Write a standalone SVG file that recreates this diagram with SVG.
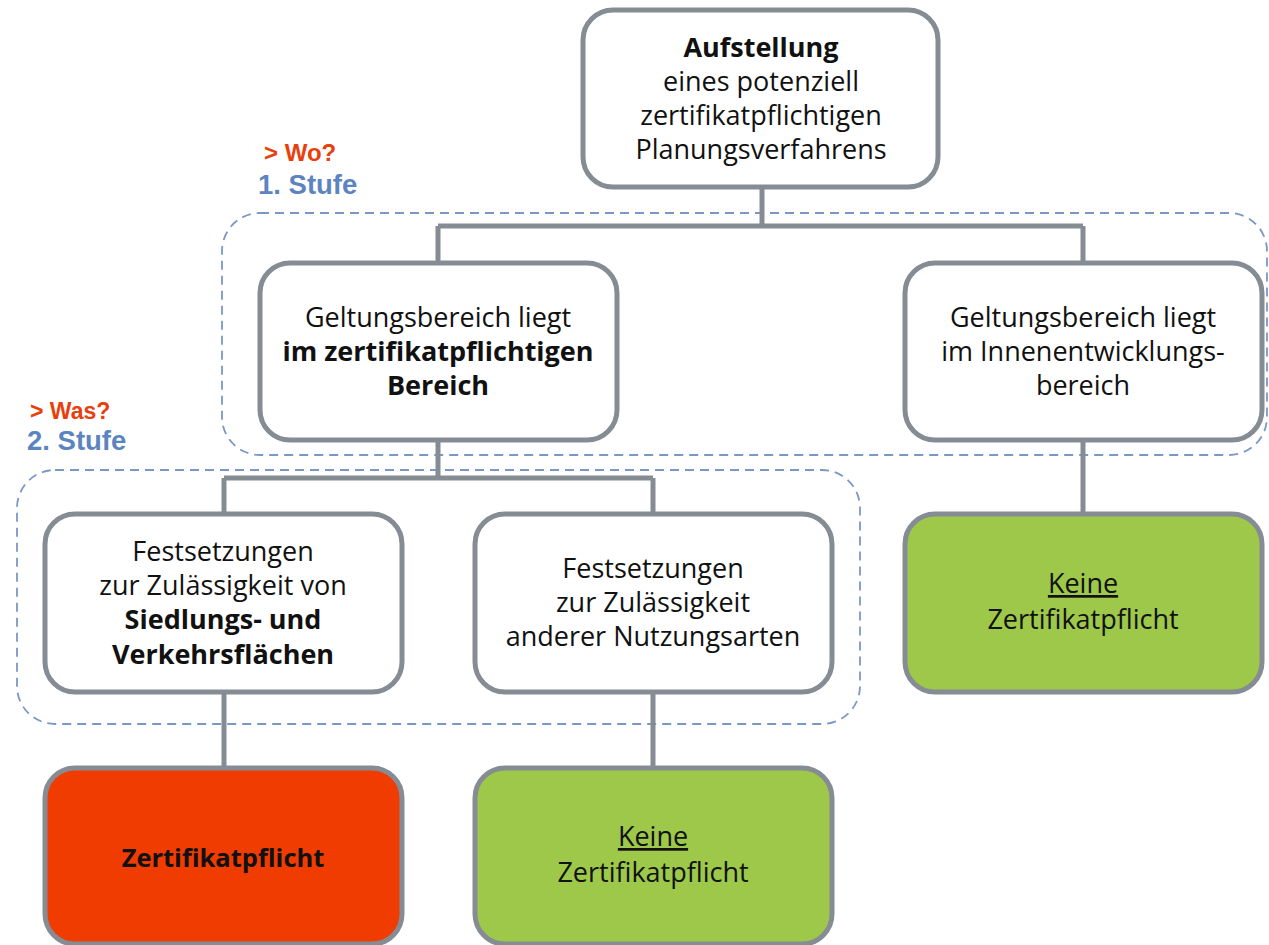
<svg xmlns="http://www.w3.org/2000/svg" width="1269" height="945" viewBox="0 0 1269 945">
<style>
.box{stroke:#858c94;stroke-width:5;}
.w{fill:#ffffff;}
.r{fill:#f03c00;}
.g{fill:#9dc84a;}
.dash{fill:none;stroke:#7a98c6;stroke-width:1.8;stroke-dasharray:9 6;}
.con{fill:none;stroke:#858c94;stroke-width:5;}
text{font-family:"Open Sans","Noto Sans",sans-serif;font-size:27px;fill:#111;text-anchor:middle;}
.b{font-weight:bold;}
.u{text-decoration:underline;}
.lab{font-family:"Liberation Sans",Arial,sans-serif;font-weight:bold;text-anchor:start;}
.red{fill:#e8400c;font-size:24px;}
.blue{fill:#5b84c0;font-size:27.5px;}
</style>
<rect width="1269" height="945" fill="#ffffff"/>
<g id="stage1">
<rect class="dash" x="222" y="213" width="1045" height="242" rx="38"/>
<text class="lab red" x="264" y="161">&gt; Wo?</text>
<text class="lab blue" x="258" y="194">1. Stufe</text>
</g>
<g id="stage2">
<rect class="dash" x="17" y="470" width="843" height="254" rx="38"/>
<text class="lab red" x="30" y="419" style="font-size:23px">&gt; Was?</text>
<text class="lab blue" x="27" y="450">2. Stufe</text>
</g>
<g id="connectors">
<path class="con" d="M762 187V226M438 226H1083M438 226V263M1083 226V263"/>
<path class="con" d="M438 440V478M224 478H653M224 478V514M653 478V514"/>
<path class="con" d="M1083 440V514"/>
<path class="con" d="M224 692V768"/>
<path class="con" d="M653 692V768"/>
</g>
<g id="n1">
<rect class="box w" x="583" y="10" width="355" height="177" rx="30"/>
<text x="761" y="57" class="b">Aufstellung</text>
<text x="761" y="91">eines potenziell</text>
<text x="761" y="125">zertifikatpflichtigen</text>
<text x="761" y="159">Planungsverfahrens</text>
</g>
<g id="n2">
<rect class="box w" x="260" y="263" width="357" height="177" rx="30"/>
<text x="438" y="327">Geltungsbereich liegt</text>
<text x="438" y="361" class="b">im zertifikatpflichtigen</text>
<text x="438" y="395" class="b">Bereich</text>
</g>
<g id="n3">
<rect class="box w" x="905" y="263" width="357" height="177" rx="30"/>
<text x="1083" y="327">Geltungsbereich liegt</text>
<text x="1083" y="361">im Innenentwicklungs-</text>
<text x="1083" y="395">bereich</text>
</g>
<g id="n4">
<rect class="box w" x="45" y="514" width="357" height="178" rx="30"/>
<text x="223" y="561">Festsetzungen</text>
<text x="223" y="595">zur Zulässigkeit von</text>
<text x="223" y="629" class="b">Siedlungs- und</text>
<text x="223" y="664" class="b">Verkehrsflächen</text>
</g>
<g id="n5">
<rect class="box w" x="475" y="514" width="357" height="178" rx="30"/>
<text x="653" y="578">Festsetzungen</text>
<text x="653" y="612">zur Zulässigkeit</text>
<text x="653" y="646">anderer Nutzungsarten</text>
</g>
<g id="n6">
<rect class="box g" x="905" y="514" width="357" height="178" rx="30"/>
<text x="1083" y="593" class="u">Keine</text>
<text x="1083" y="629">Zertifikatpflicht</text>
</g>
<g id="n7">
<rect class="box r" x="45" y="768" width="357" height="176" rx="30"/>
<text x="223" y="867" class="b" style="font-size:25.5px">Zertifikatpflicht</text>
</g>
<g id="n8">
<rect class="box g" x="475" y="768" width="357" height="176" rx="30"/>
<text x="653" y="846" class="u">Keine</text>
<text x="653" y="882">Zertifikatpflicht</text>
</g>
</svg>
